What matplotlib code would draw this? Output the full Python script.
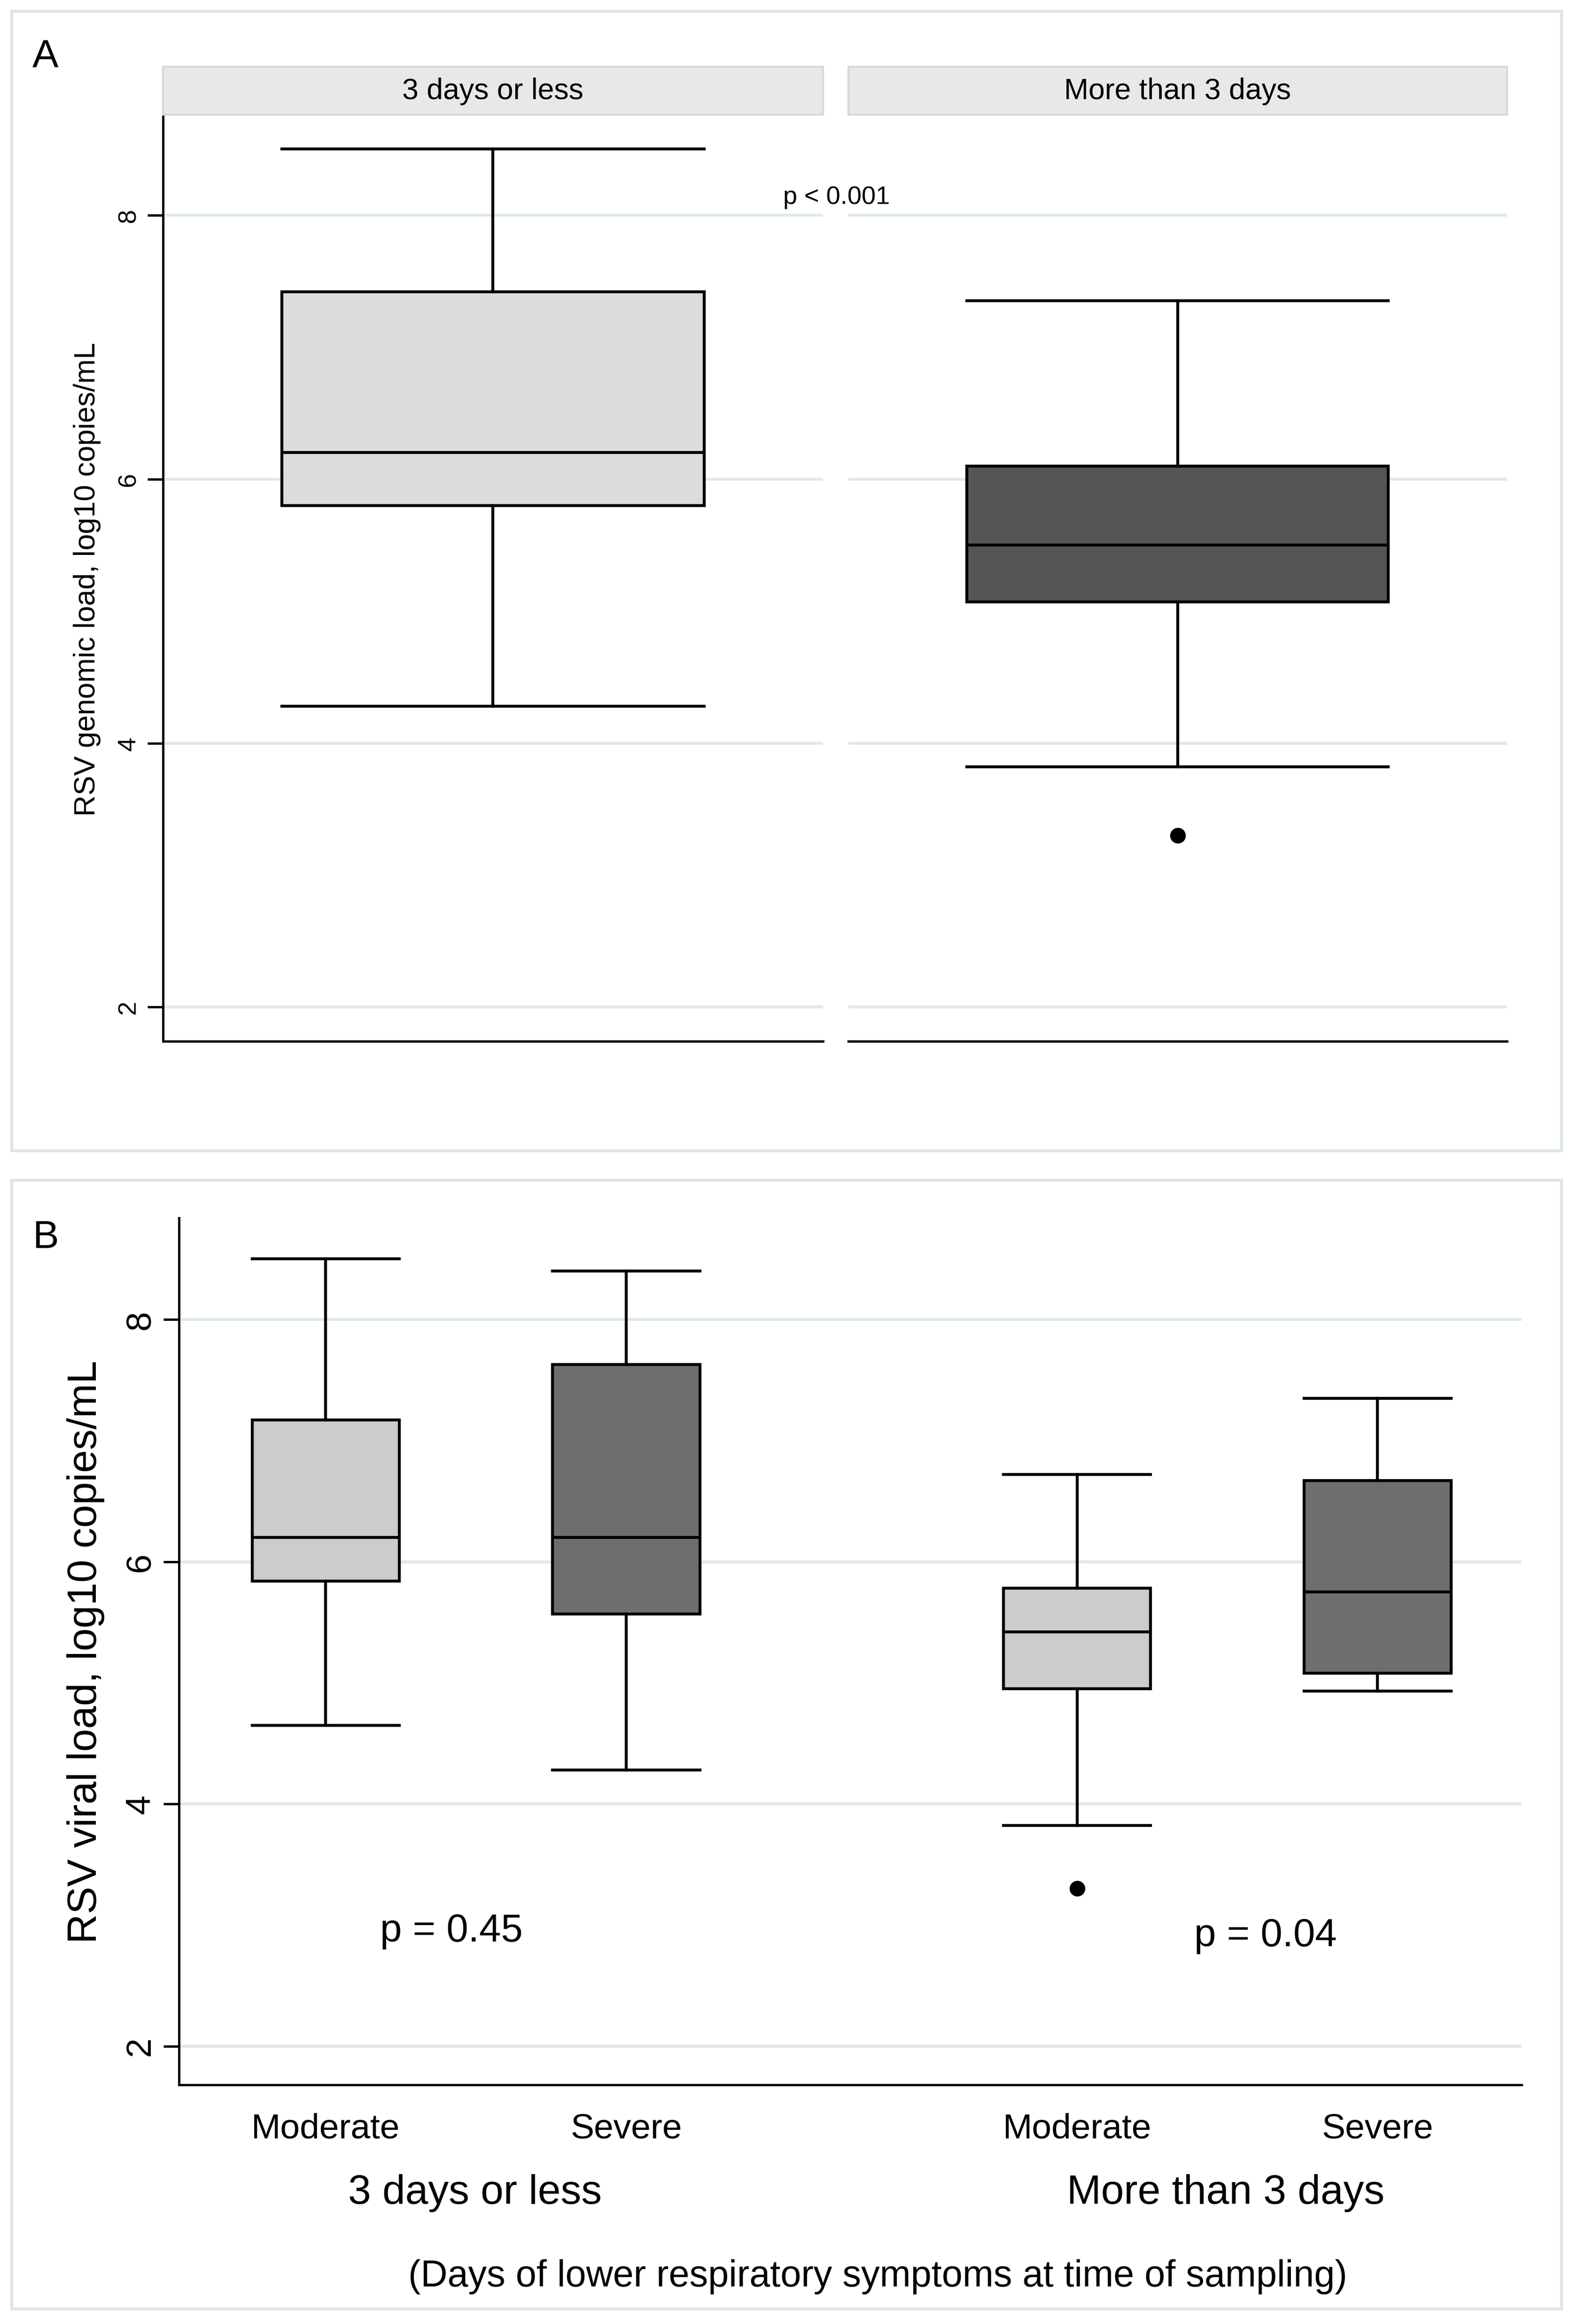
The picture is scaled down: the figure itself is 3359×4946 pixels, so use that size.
import matplotlib
matplotlib.use('Agg')
import matplotlib.pyplot as plt
from matplotlib.patches import Rectangle

plt.rcParams['font.family'] = ['Liberation Sans', 'DejaVu Sans']

W, H = 1066, 1555  # layout reference units

# Panel A data (whislo, q1, med, q3, whishi, fliers)
a_groups = ['3 days or less', 'More than 3 days']
a_stats = [(4.28, 5.80, 6.20, 7.42, 8.50, []),
           (3.82, 5.07, 5.50, 6.10, 7.35, [3.30])]
a_colors = ['#dcdcdc', '#555555']

# Panel B data
b_cats = ['Moderate', 'Severe', 'Moderate', 'Severe']
b_groups = ['3 days or less', 'More than 3 days']
b_pos = [1, 2, 3.5, 4.5]
b_stats = [(4.65, 5.84, 6.20, 7.17, 8.50, []),
           (4.28, 5.57, 6.20, 7.63, 8.40, []),
           (3.82, 4.95, 5.42, 5.78, 6.72, [3.30]),
           (4.93, 5.08, 5.75, 6.67, 7.35, [])]
b_colors = ['#cccccc', '#6e6e6e', '#cccccc', '#6e6e6e']


def rect(x0, y0, x1, y1):
    return [x0 / W, 1 - y1 / H, (x1 - x0) / W, (y1 - y0) / H]


def fx(x):
    return x / W


def fy(y):
    return 1 - y / H


def mk(s):
    lo, q1, med, q3, hi, fl = s
    return dict(whislo=lo, q1=q1, med=med, q3=q3, whishi=hi, fliers=fl)


def draw_boxes(ax, stats, pos, colors, width):
    bp = ax.bxp([mk(s) for s in stats], positions=pos, widths=width,
                patch_artist=True, showcaps=True,
                boxprops=dict(edgecolor='black', linewidth=1.5),
                medianprops=dict(color='black', linewidth=1.5),
                whiskerprops=dict(color='black', linewidth=1.5),
                capprops=dict(color='black', linewidth=1.5),
                flierprops=dict(marker='o', markerfacecolor='black',
                                markeredgecolor='black', markersize=7))
    for b, c in zip(bp['boxes'], colors):
        b.set_facecolor(c)
    for c in bp['caps']:
        x = c.get_xdata()
        m = (x[0] + x[1]) / 2
        c.set_xdata([m - width * 0.5, m + width * 0.5])
    ax.set_axisbelow(True)


fig = plt.figure(figsize=(3359 / 300, 4947 / 300), dpi=300)

# outer frames
for y0, y1 in [(8, 770), (790, 1545)]:
    fig.add_artist(Rectangle((fx(8), fy(y1)), (1055 - 8) / W, (y1 - y0) / H,
                             transform=fig.transFigure, fill=False,
                             edgecolor='#dde6e6', linewidth=1.5))

# ---- Panel A ----
fig.text(fx(22), fy(45), 'A', fontsize=20)
ylo_a, yhi_a = 1.74, 8.75
for i, (x0, x1) in enumerate([(110, 556), (573, 1018)]):
    ax = fig.add_axes(rect(x0, 78, x1, 697))
    draw_boxes(ax, [a_stats[i]], [0], [a_colors[i]], 0.64)
    ax.set_xlim(-0.5, 0.5)
    ax.set_ylim(ylo_a, yhi_a)
    ax.set_xticks([])
    for s in ['top', 'right']:
        ax.spines[s].set_visible(False)
    ax.spines['bottom'].set_linewidth(1.2)
    ax.yaxis.grid(True, color='#dfe9e9', linewidth=1.5)
    if i == 0:
        ax.set_yticks([2, 4, 6, 8])
        ax.tick_params(axis='y', labelsize=13, length=8, width=1.2)
        for t in ax.get_yticklabels():
            t.set_rotation(90)
            t.set_va('center')
        ax.spines['left'].set_linewidth(1.2)
        ax.set_ylabel('RSV genomic load, log10 copies/mL', fontsize=15, labelpad=8)
    else:
        ax.set_yticks([2, 4, 6, 8])
        ax.tick_params(axis='y', left=False, labelleft=False)
        ax.spines['left'].set_visible(False)
    fig.add_artist(Rectangle((fx(x0), fy(77)), (x1 - x0) / W, 32 / H,
                             transform=fig.transFigure, facecolor='#e8e8e8',
                             edgecolor='#d8d8d8', linewidth=1))
    fig.text(fx((x0 + x1) / 2), fy(61), a_groups[i], fontsize=15,
             ha='center', va='center')
fig.text(fx(565), fy(132), 'p < 0.001', fontsize=13, ha='center', va='center')

# ---- Panel B ----
fig.text(fx(22), fy(835), 'B', fontsize=20)
ax = fig.add_axes(rect(121, 815, 1028, 1395))
draw_boxes(ax, b_stats, b_pos, b_colors, 0.49)
ax.set_xlim(0.512, 4.98)
ax.set_ylim(1.68, 8.84)
ax.set_yticks([2, 4, 6, 8])
ax.tick_params(axis='y', labelsize=18, length=8, width=1.2)
for t in ax.get_yticklabels():
    t.set_rotation(90)
    t.set_va('center')
ax.set_xticks(b_pos)
ax.set_xticklabels(b_cats, fontsize=18)
ax.tick_params(axis='x', length=0, pad=14)
for s in ['top', 'right']:
    ax.spines[s].set_visible(False)
ax.spines['left'].set_linewidth(1.2)
ax.spines['bottom'].set_linewidth(1.2)
ax.yaxis.grid(True, color='#dfe9e9', linewidth=1.5)
ax.set_ylabel('RSV viral load, log10 copies/mL', fontsize=21, labelpad=10)
fig.text(fx(305), fy(1292), 'p = 0.45', fontsize=20, ha='center', va='center')
fig.text(fx(855), fy(1295), 'p = 0.04', fontsize=20, ha='center', va='center')
fig.text(fx(321), fy(1467), b_groups[0], fontsize=21, ha='center', va='center')
fig.text(fx(828), fy(1467), b_groups[1], fontsize=21, ha='center', va='center')
fig.text(fx(593), fy(1523), '(Days of lower respiratory symptoms at time of sampling)',
         fontsize=19, ha='center', va='center')

fig.savefig('out.png', dpi=300, facecolor='white')
